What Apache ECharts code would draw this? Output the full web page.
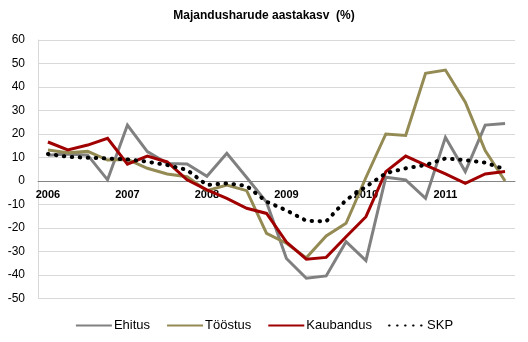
<!DOCTYPE html>
<html>
<head>
<meta charset="utf-8">
<script src="https://cdn.jsdelivr.net/npm/echarts@6/dist/echarts.min.js"></script>
<style>html,body{margin:0;padding:0;background:#fff}#c{width:528px;height:342px}</style>
</head>
<body>
<div id="c"></div>
<script>
const categories = [
  '2006','2006 Q2','2006 Q3','2006 Q4',
  '2007','2007 Q2','2007 Q3','2007 Q4',
  '2008','2008 Q2','2008 Q3','2008 Q4',
  '2009','2009 Q2','2009 Q3','2009 Q4',
  '2010','2010 Q2','2010 Q3','2010 Q4',
  '2011','2011 Q2','2011 Q3','2011 Q4'
];
const ehitus    = [11, 11.5, 11, 0.5, 23.8, 12.5, 7.5, 7.2, 2, 11.8, 1.5, -9, -33, -41.4, -40.4, -25.8, -33.9, 1.6, 0.5, -7.4, 18.6, 4, 23.8, 24.5];
const toostus   = [13.2, 12, 12.6, 8.9, 9.2, 5.4, 3, 1.8, -4.1, -1.7, -4.1, -22.3, -26.5, -32.7, -23.4, -18, 1.5, 20, 19.4, 45.8, 47.2, 33.5, 13, 0];
const kaubandus = [16.6, 13.2, 15.3, 18.2, 7.2, 10.6, 8.1, 0.5, -3.8, -7.4, -11.6, -13.8, -26, -33.3, -32.5, -23.7, -15.2, 4, 10.6, 6.8, 3, -1, 3, 4];
const skp       = [11.5, 10.3, 9.9, 9.6, 9.2, 8.2, 6.8, 4.7, -1.7, -1, -2.1, -8.8, -12.5, -16.9, -17.2, -8.1, -2.4, 3.3, 5.4, 6.8, 9.6, 8.9, 7.8, 5];
const yTicks = {min: -50, max: 60, interval: 10};

const chart = echarts.init(document.getElementById('c'), null, {renderer: 'canvas'});
const font = 'Liberation Sans, Arial, sans-serif';
function line(name, data, color, extra) {
  return Object.assign({
    name, type: 'line', data, symbol: 'none', smooth: false,
    lineStyle: {color, width: 3, join: 'miter'},
    itemStyle: {color},
    emphasis: {disabled: true}
  }, extra || {});
}
chart.setOption({
  animation: false,
  title: {
    text: 'Majandusharude aastakasv  (%)',
    left: 'center', top: 5,
    textStyle: {fontFamily: font, fontSize: 12, fontWeight: 'bold', color: '#000'}
  },
  legend: {
    bottom: 5, left: 'center',
    itemWidth: 36, itemHeight: 10, itemGap: 16,
    itemStyle: {opacity: 0},
    textStyle: {fontFamily: font, fontSize: 13, color: '#000', padding: [0, 0, 0, -3]},
    data: ['Ehitus', 'Tööstus', 'Kaubandus', 'SKP']
  },
  grid: {left: 38, right: 13, top: 40, bottom: 43.5, containLabel: false},
  xAxis: {
    type: 'category', data: categories, boundaryGap: true,
    axisLine: {onZero: false, lineStyle: {color: '#868686', width: 1}},
    axisTick: {show: false},
    axisLabel: {
      interval: 3, margin: 8,
      fontFamily: font, fontSize: 11, fontWeight: 'bold', color: '#000',
      formatter: v => v.length === 4 ? v : ''
    },
    splitLine: {show: false}
  },
  yAxis: {
    type: 'value', min: yTicks.min, max: yTicks.max, interval: yTicks.interval,
    axisLine: {show: true, lineStyle: {color: '#d9d9d9'}},
    axisTick: {show: false},
    axisLabel: {margin: 13, fontFamily: font, fontSize: 12, color: '#000'},
    splitLine: {lineStyle: {color: '#d9d9d9', width: 1}}
  },
  series: [
    line('Ehitus', ehitus, '#808080'),
    line('Tööstus', toostus, '#948a54'),
    line('Kaubandus', kaubandus, '#a00000'),
    line('SKP', skp, '#000000', {lineStyle: {color: '#000', width: 4, type: [0.5, 7.5], cap: 'round'}})
  ]
});
// move the category axis (line + labels) to the value-axis zero, as in the reference
const yZero = chart.convertToPixel({yAxisIndex: 0}, 0);
const yBottom = chart.convertToPixel({yAxisIndex: 0}, yTicks.min);
chart.setOption({xAxis: {offset: -(yBottom - yZero)}});
</script>
</body>
</html>
